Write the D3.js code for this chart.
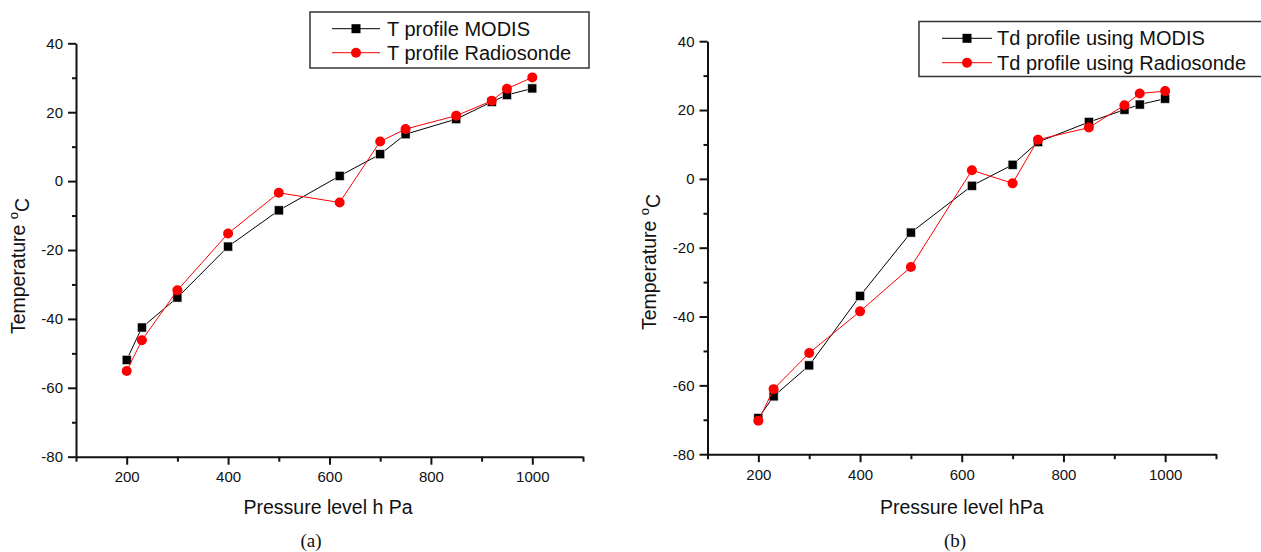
<!DOCTYPE html>
<html>
<head>
<meta charset="utf-8">
<script src="https://cdn.jsdelivr.net/npm/d3@7"></script>
<style>
  html, body { margin: 0; padding: 0; background: #fff; }
  svg { display: block; }
  text { font-family: "Liberation Sans", Arial, sans-serif; fill: #111; }
</style>
</head>
<body>
<svg id="chart" width="1261" height="552"></svg>
<script>
// ---------- data ----------
const pressure = [200, 230, 300, 400, 500, 620, 700, 750, 850, 920, 950, 1000];
const tModis   = [-51.9, -42.5, -33.8, -19.0, -8.5, 1.5, 7.8, 13.6, 18.0, 23.0, 25.0, 26.9];
const tRadio   = [-55.1, -46.2, -31.7, -15.2, -3.4, -6.2, 11.5, 15.1, 19.0, 23.3, 26.8, 30.1];
const tdModis  = [-69.5, -63.2, -54.2, -34.0, -15.6, -2.0, 4.1, 10.7, 16.5, 20.1, 21.6, 23.3];
const tdRadio  = [-70.3, -61.1, -50.6, -38.5, -25.6, 2.5, -1.3, 11.4, 14.9, 21.4, 24.8, 25.5];

const xMajorTicks = [200, 400, 600, 800, 1000];
const xMinorTicks = [100, 300, 500, 700, 900, 1100];
const yMajorTicks = [-80, -60, -40, -20, 0, 20, 40];
const yMinorTicks = [-70, -50, -30, -10, 10, 30];

const legendA = ["T profile MODIS", "T profile Radiosonde"];
const legendB = ["Td profile using MODIS", "Td profile using Radiosonde"];
const xTitleA = "Pressure level h Pa";
const xTitleB = "Pressure level hPa";
const captions = ["(a)", "(b)"];

const svg = d3.select("#chart");
const fmt = d => String(d);

function drawPanel(cfg) {
  const g = svg.append("g");
  const x = d3.scaleLinear().domain([100, 1100]).range([cfg.x0, cfg.x1]);
  const y = d3.scaleLinear().domain([-80, 40]).range([cfg.yBottom, cfg.yTop]);

  // x axis major
  const xAx = g.append("g").attr("transform", `translate(0,${cfg.yBottom})`)
    .call(d3.axisBottom(x).tickValues(xMajorTicks).tickSize(8).tickSizeOuter(0).tickPadding(7).tickFormat(fmt));
  xAx.select(".domain").attr("stroke", "#111").attr("stroke-width", 2);
  xAx.selectAll(".tick line").attr("stroke", "#111").attr("stroke-width", 2);
  xAx.selectAll("text").attr("font-size", 15).attr("fill", "#111")
     .style("font-family", "'Liberation Sans', Arial, sans-serif");
  // x minor
  g.append("g").attr("transform", `translate(0,${cfg.yBottom})`)
    .call(d3.axisBottom(x).tickValues(xMinorTicks).tickSize(5).tickSizeOuter(0).tickFormat(""))
    .call(s => { s.select(".domain").remove(); s.selectAll(".tick line").attr("stroke", "#111").attr("stroke-width", 2); });

  // y axis major
  const yAx = g.append("g").attr("transform", `translate(${cfg.x0},0)`)
    .call(d3.axisLeft(y).tickValues(yMajorTicks).tickSize(8).tickSizeOuter(0).tickPadding(5).tickFormat(fmt));
  yAx.select(".domain").attr("stroke", "#111").attr("stroke-width", 2);
  yAx.selectAll(".tick line").attr("stroke", "#111").attr("stroke-width", 2);
  yAx.selectAll("text").attr("font-size", 15).attr("fill", "#111")
     .style("font-family", "'Liberation Sans', Arial, sans-serif");
  g.append("g").attr("transform", `translate(${cfg.x0},0)`)
    .call(d3.axisLeft(y).tickValues(yMinorTicks).tickSize(4).tickSizeOuter(0).tickFormat(""))
    .call(s => { s.select(".domain").remove(); s.selectAll(".tick line").attr("stroke", "#111").attr("stroke-width", 2); });

  // titles
  g.append("text").attr("x", (cfg.x0 + cfg.x1) / 2 + cfg.xTitleShift).attr("y", 514)
    .attr("text-anchor", "middle").attr("font-size", 19.5).text(cfg.xTitle);
  const yt = g.append("text")
    .attr("transform", `translate(${cfg.yTitleX},${cfg.yTitleY}) rotate(-90)`)
    .attr("text-anchor", "middle").attr("font-size", 19.5);
  yt.append("tspan").text("Temperature ");
  yt.append("tspan").attr("dy", "-0.55em").attr("font-size", 13).text("o");
  yt.append("tspan").attr("dy", "0.55em").text("C");

  g.append("text").attr("x", cfg.capX).attr("y", 547).attr("text-anchor", "middle")
    .attr("font-size", 19).style("font-family", "'Liberation Serif', 'Times New Roman', serif")
    .text(cfg.caption);

  // series
  const series = [
    { vals: cfg.s1, color: "#000", shape: "square" },
    { vals: cfg.s2, color: "#ff0000", shape: "circle" }
  ];
  series.forEach(s => {
    const pts = pressure.map((p, i) => [p, s.vals[i]]);
    g.append("path").datum(pts)
      .attr("fill", "none").attr("stroke", s.color).attr("stroke-width", 1)
      .attr("d", d3.line().x(d => x(d[0])).y(d => y(d[1])));
    if (s.shape === "square") {
      g.selectAll(null).data(pts).enter().append("rect")
        .attr("x", d => x(d[0]) - 4.5).attr("y", d => y(d[1]) - 4.5)
        .attr("width", 9).attr("height", 9).attr("fill", "#000")
        .attr("stroke", "#ddd").attr("stroke-width", 0.6);
    } else {
      g.selectAll(null).data(pts).enter().append("circle")
        .attr("cx", d => x(d[0])).attr("cy", d => y(d[1])).attr("r", 5)
        .attr("fill", "#ff0000");
    }
  });

  // legend
  const L = cfg.legend;
  g.append("rect").attr("x", L.x).attr("y", L.y).attr("width", L.w).attr("height", L.h)
    .attr("fill", "#fff").attr("stroke", "#333").attr("stroke-width", 1.5);
  cfg.legendLabels.forEach((lab, i) => {
    const cy = L.rowY[i];
    const col = i === 0 ? "#000" : "#ff0000";
    g.append("line").attr("x1", L.lx0).attr("x2", L.lx1).attr("y1", cy).attr("y2", cy)
      .attr("stroke", col).attr("stroke-width", 1);
    const mx = (L.lx0 + L.lx1) / 2;
    if (i === 0) {
      g.append("rect").attr("x", mx - 4.5).attr("y", cy - 4.5).attr("width", 9).attr("height", 9).attr("fill", "#000");
    } else {
      g.append("circle").attr("cx", mx).attr("cy", cy).attr("r", 5).attr("fill", "#ff0000");
    }
    g.append("text").attr("x", L.tx).attr("y", cy + 7).attr("font-size", 20).text(lab);
  });
}

drawPanel({
  x0: 76, x1: 583, yTop: 43.3, yBottom: 456.7,
  s1: tModis, s2: tRadio,
  xTitle: xTitleA, xTitleShift: -1.5,
  yTitleX: 25, yTitleY: 266,
  caption: captions[0], capX: 311,
  legendLabels: legendA,
  legend: { x: 310, y: 12, w: 279, h: 56, rowY: [28.7, 52.7], lx0: 332, lx1: 380, tx: 387 }
});

drawPanel({
  x0: 707.5, x1: 1216, yTop: 41.2, yBottom: 454.2,
  s1: tdModis, s2: tdRadio,
  xTitle: xTitleB, xTitleShift: 0,
  yTitleX: 656, yTitleY: 262,
  caption: captions[1], capX: 955,
  legendLabels: legendB,
  legend: { x: 919, y: 21.5, w: 360, h: 55, rowY: [38.3, 62.7], lx0: 942, lx1: 992, tx: 997 }
});
</script>
</body>
</html>
